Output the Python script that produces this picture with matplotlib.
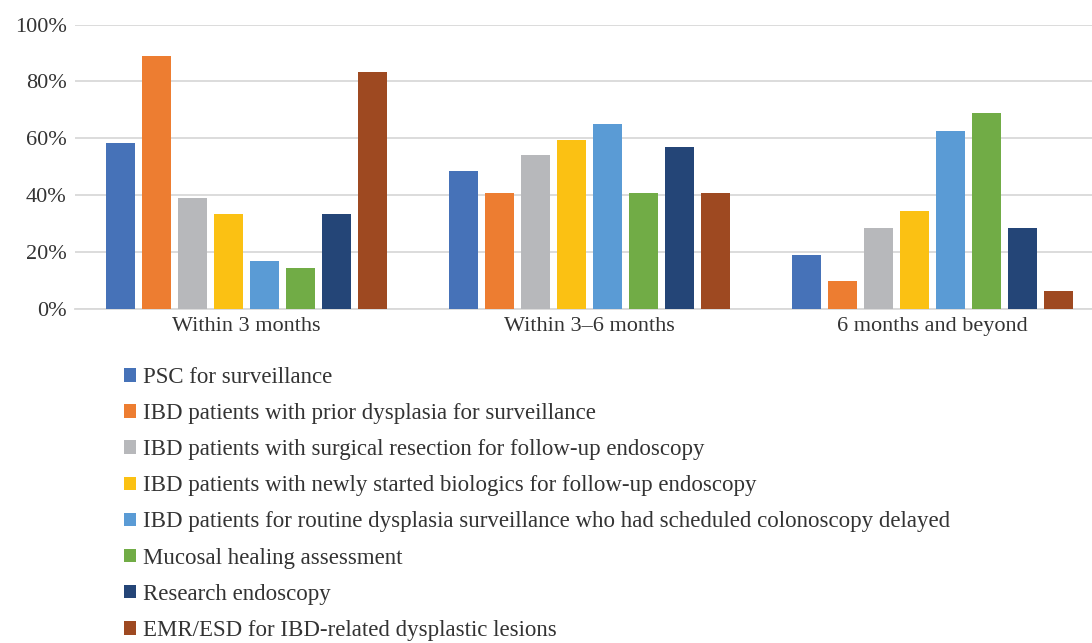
import matplotlib
matplotlib.use("Agg")
import matplotlib.pyplot as plt
from matplotlib.ticker import PercentFormatter
import numpy as np

plt.rcParams["font.family"] = ["Liberation Serif", "DejaVu Serif"]

_TEXT = "#333333"
_GRID = "#D9D9D9"

periods = ["Within 3 months", "Within 3\u20136 months", "6 months and beyond"]

series_names = [
    "PSC for surveillance",
    "IBD patients with prior dysplasia for surveillance",
    "IBD patients with surgical resection for follow-up endoscopy",
    "IBD patients with newly started biologics for follow-up endoscopy",
    "IBD patients for routine dysplasia surveillance who had scheduled colonoscopy delayed",
    "Mucosal healing assessment",
    "Research endoscopy",
    "EMR/ESD for IBD-related dysplastic lesions",
]

series_colors = ["#4672B8", "#ED7D31", "#B7B8BB", "#FBC113",
                 "#5A9BD5", "#71AC46", "#244577", "#9E4921"]

# share of respondents per period, one list per indication
psc_surveillance  = [58.3, 48.6, 18.9]
prior_dysplasia   = [88.9, 40.7, 9.8]
surgical_resect   = [38.9, 54.0, 28.4]
new_biologics     = [33.3, 59.3, 34.4]
routine_delayed   = [16.7, 64.9, 62.5]
mucosal_healing   = [14.3, 40.7, 68.8]
research_endo     = [33.3, 56.8, 28.4]
emr_esd           = [83.3, 40.7, 6.3]

values = [psc_surveillance, prior_dysplasia, surgical_resect, new_biologics,
          routine_delayed, mucosal_healing, research_endo, emr_esd]

W, H = 1092, 643
fig = plt.figure(figsize=(W / 100, H / 100), dpi=100, facecolor="white")
ax = fig.add_axes([75 / W, 1 - 309 / H, (1104 - 75) / W, (309 - 24.5) / H])

x = np.arange(len(periods))
step = 0.105
bar_w = 0.0845
n = len(values)
for i, (name, vals, col) in enumerate(zip(series_names, values, series_colors)):
    offs = (i - (n - 1) / 2) * step
    ax.bar(x + offs, np.array(vals) / 100, width=bar_w, color=col,
           label=name, zorder=3, linewidth=0)

ax.set_xlim(-0.5, len(periods) - 0.5)
ax.set_ylim(0, 1.0)
ax.set_yticks(np.arange(0, 1.01, 0.2))
ax.yaxis.set_major_formatter(PercentFormatter(1.0, decimals=0))
ax.set_xticks(x)
ax.set_xticklabels(periods)

ax.grid(axis="y", color=_GRID, linewidth=1.3, zorder=0)
ax.set_axisbelow(True)
for side in ("top", "right", "left"):
    ax.spines[side].set_visible(False)
ax.spines["bottom"].set_color(_GRID)
ax.spines["bottom"].set_linewidth(1.3)
ax.tick_params(axis="both", length=0, labelsize=16, colors=_TEXT)
ax.tick_params(axis="y", pad=6)
ax.tick_params(axis="x", pad=6)

fig.legend(loc="upper left", bbox_to_anchor=(124 / W, 1 - 367 / H),
           frameon=False, fontsize=16.5, labelcolor=_TEXT,
           handlelength=0.53, handleheight=0.53, handletextpad=0.3,
           labelspacing=0.66, borderpad=0, borderaxespad=0)

fig.savefig("out.png", dpi=100, facecolor="white")
